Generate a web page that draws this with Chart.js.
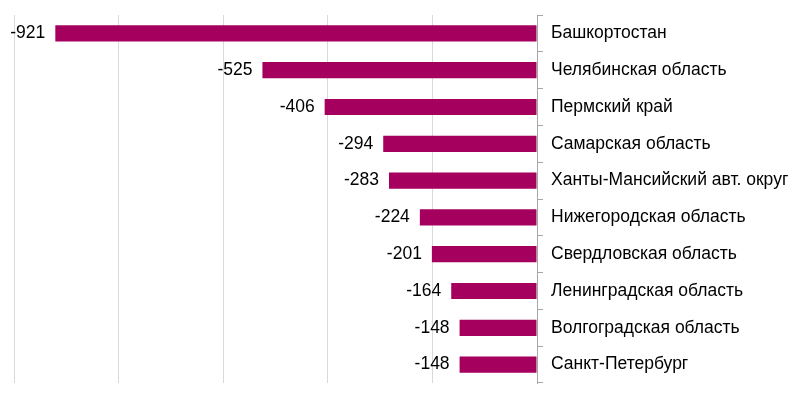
<!DOCTYPE html>
<html>
<head>
<meta charset="utf-8">
<script src="https://cdn.jsdelivr.net/npm/chart.js@4"></script>
<style>
  html, body { margin: 0; padding: 0; background: #fff; }
  #wrap { width: 797px; height: 399px; }
</style>
</head>
<body>
<div id="wrap"><canvas id="barChart"></canvas></div>
<script>
const regions = ['Башкортостан', 'Челябинская область', 'Пермский край', 'Самарская область',
    'Ханты-Мансийский авт. округ', 'Нижегородская область', 'Свердловская область',
    'Ленинградская область', 'Волгоградская область', 'Санкт-Петербург'];
const values = [-921, -525, -406, -294, -283, -224, -201, -164, -148, -148];
const xTicks = [-1000, -800, -600, -400, -200, 0];

// value labels to the left of each bar end
const barLabels = {
    id: 'barLabels',
    afterDatasetsDraw(chart) {
        const ctx = chart.ctx;
        const meta = chart.getDatasetMeta(0);
        ctx.save();
        ctx.font = '17.5px "Liberation Sans", Arial, sans-serif';
        ctx.fillStyle = '#000';
        ctx.textAlign = 'right';
        ctx.textBaseline = 'middle';
        meta.data.forEach((bar, i) => {
            ctx.fillText(String(values[i]), bar.x - 10, bar.y);
        });
        ctx.restore();
    }
};

const ctx1 = document.getElementById('barChart').getContext('2d');
const barChart = new Chart(ctx1, {
    type: 'bar',
    data: {
        labels: regions,
        datasets: [
            {
                data: values,
                backgroundColor: '#a6005e',
                borderWidth: 0,
                categoryPercentage: 1,
                barPercentage: 0.44
            }
        ]
    },
    plugins: [barLabels],
    options: {
        indexAxis: 'y',
        responsive: true,
        maintainAspectRatio: false,
        animation: false,
        layout: { padding: { left: 14, top: 15, bottom: 16, right: 0 } },
        plugins: {
            legend: { display: false },
            tooltip: { enabled: false }
        },
        scales: {
            x: {
                min: -1000,
                max: 0,
                afterBuildTicks: (scale) => { scale.ticks = xTicks.map(v => ({ value: v })); },
                ticks: { display: false },
                grid: { color: '#d9d9d9', drawTicks: false },
                border: { display: false }
            },
            y: {
                position: 'right',
                afterFit: (scale) => {
                    scale.width = 260;
                    scale.paddingTop = 0;
                    scale.paddingBottom = 0;
                },
                grid: { drawOnChartArea: false, drawTicks: true, tickLength: 6, color: '#a6a6a6', offset: true },
                border: { display: true, color: '#a6a6a6' },
                ticks: {
                    padding: 8,
                    color: '#000',
                    font: { family: '"Liberation Sans", Arial, sans-serif', size: 17.5 }
                }
            }
        }
    }
});
</script>
</body>
</html>
